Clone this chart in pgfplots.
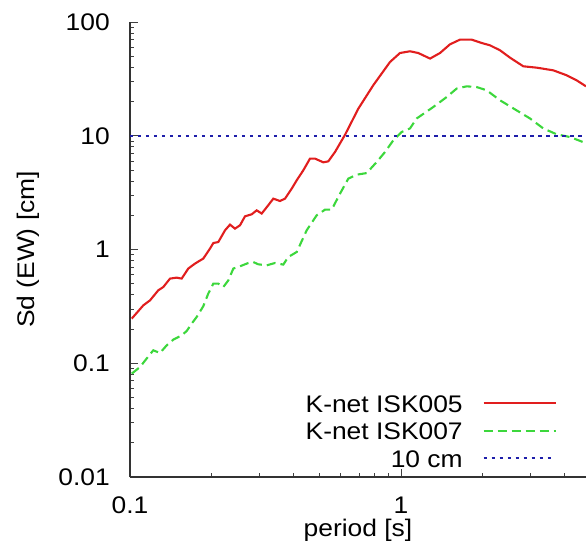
\documentclass[border=0pt]{standalone}
\usepackage{fontspec}
\setmainfont{Liberation Sans}[FakeStretch=1.1]
\usepackage{pgfplots}
\pgfplotsset{compat=1.18}
\definecolor{cred}{RGB}{225,30,30}
\definecolor{cgreen}{RGB}{60,215,60}
\definecolor{cblue}{RGB}{30,30,170}
\newcommand{\bigf}{\fontsize{24}{28}\selectfont}
\begin{document}
\bigf
\begin{tikzpicture}
\path[use as bounding box] (-130pt,-73pt) rectangle (456pt,477pt);
\begin{axis}[
  xmode=log, ymode=log,
  scale only axis, width=456pt, height=455pt,
  xmin=0.1, xmax=4.816, ymin=0.01, ymax=100,
  axis x line*=bottom, axis y line*=left,
  axis line style={line width=1.1pt, black!80, -},
  tick align=inside,
  major tick length=8pt, minor tick length=4pt,
  every tick/.style={line width=0.9pt, black!75},
  xtick={0.1,1}, xticklabels={0.1,1},
  minor xtick={0.2,0.3,0.4,0.5,0.6,0.7,0.8,0.9,2,3,4},
  ytick={0.01,0.1,1,10,100}, yticklabels={0.01,0.1,1,10,100},
  minor ytick={0.02,0.03,0.04,0.05,0.06,0.07,0.08,0.09,0.2,0.3,0.4,0.5,0.6,0.7,0.8,0.9,2,3,4,5,6,7,8,9,20,30,40,50,60,70,80,90},
  xticklabel style={font=\bigf, inner sep=0pt, anchor=north, yshift=-20pt},
  yticklabel style={font=\bigf, inner sep=0pt, anchor=east, xshift=-20pt},
  xlabel={period [s]},
  ylabel={Sd (EW) [cm]},
  xlabel style={font=\bigf, at={(axis description cs:0.5,0)}, anchor=base, yshift=-59pt},
  ylabel style={font=\bigf, at={(axis description cs:0,0.5)}, anchor=center, yshift=102pt},
  legend plot pos=right,
  legend image code/.code={\draw[#1] (0pt,0pt) -- (72pt,0pt);},
  legend style={draw=none, fill=none, font=\bigf, inner sep=0pt,
    at={(axis description cs:0.9364,0.1824)}, anchor=north east,
    cells={anchor=east}, nodes={inner sep=0pt, text height=18pt, text depth=0pt},
    row sep=9.5pt, column sep=20pt},
  clip=true,
]
\addplot[cred, line width=2.1pt] coordinates {
(0.1015,0.247) (0.1120,0.323) (0.1185,0.357) (0.1272,0.438) (0.1327,0.468)
(0.1405,0.555) (0.1487,0.566) (0.1551,0.555) (0.1641,0.680) (0.1737,0.752)
(0.1864,0.832) (0.1973,1.018) (0.2030,1.14) (0.2118,1.164) (0.2242,1.475)
(0.2339,1.655) (0.2440,1.527) (0.2546,1.632) (0.2657,1.958) (0.2813,2.04)
(0.2935,2.21) (0.3062,2.07) (0.3238,2.45) (0.3379,2.80) (0.3577,2.67)
(0.3733,2.80) (0.3952,3.43) (0.4123,4.06) (0.4360,4.97) (0.4616,6.30)
(0.4816,6.30) (0.5169,5.84) (0.5393,5.96) (0.5708,7.20) (0.6216,10.2)
(0.6959,17.3) (0.7901,27.8) (0.9107,44.5) (0.9915,53.4) (1.0795,55.3)
(1.158,53.4) (1.280,47.7) (1.393,53.4) (1.517,63.7) (1.651,70.0)
(1.824,70.0) (1.986,65.4) (2.13,62.4) (2.32,56.4) (2.525,48.6)
(2.827,40.8) (3.168,39.7) (3.648,37.6) (4.088,34.0) (4.449,30.7) (4.816,27.2)
};
\addlegendentry{K-net ISK005}
\addplot[cgreen, line width=2.1pt, dash pattern=on 9pt off 5pt] coordinates {
(0.1015,0.0811) (0.1089,0.0927) (0.1152,0.110) (0.1219,0.130) (0.1290,0.123)
(0.1366,0.1438) (0.1445,0.1614) (0.1551,0.176) (0.1619,0.192) (0.1689,0.223)
(0.1762,0.255) (0.1864,0.317) (0.1945,0.410) (0.2030,0.501) (0.2118,0.501)
(0.2210,0.468) (0.2306,0.536) (0.2406,0.680) (0.2546,0.712) (0.2733,0.761)
(0.2851,0.776) (0.2975,0.741) (0.3195,0.726) (0.3428,0.761) (0.3679,0.737)
(0.3838,0.859) (0.4123,0.951) (0.4487,1.475) (0.4886,2.00) (0.5243,2.24)
(0.5550,2.24) (0.5957,3.10) (0.6392,4.20) (0.6866,4.55) (0.7471,4.70)
(0.8135,5.88) (0.8730,7.20) (0.9367,9.12) (1.006,10.8) (1.0795,11.6)
(1.143,14.2) (1.316,17.9) (1.474,21.9) (1.605,26.0) (1.748,27.2)
(1.903,26.8) (2.072,25.1) (2.32,20.5) (2.673,16.7) (2.992,14.2)
(3.350,11.6) (3.754,10.3) (4.203,9.75) (4.816,8.6)
};
\addlegendentry{K-net ISK007}
\addplot[cblue, line width=2pt, dash pattern=on 3.5pt off 4.5pt] coordinates {(0.1,10) (4.816,10)};
\addlegendentry{10 cm}
\end{axis}
\end{tikzpicture}
\end{document}
